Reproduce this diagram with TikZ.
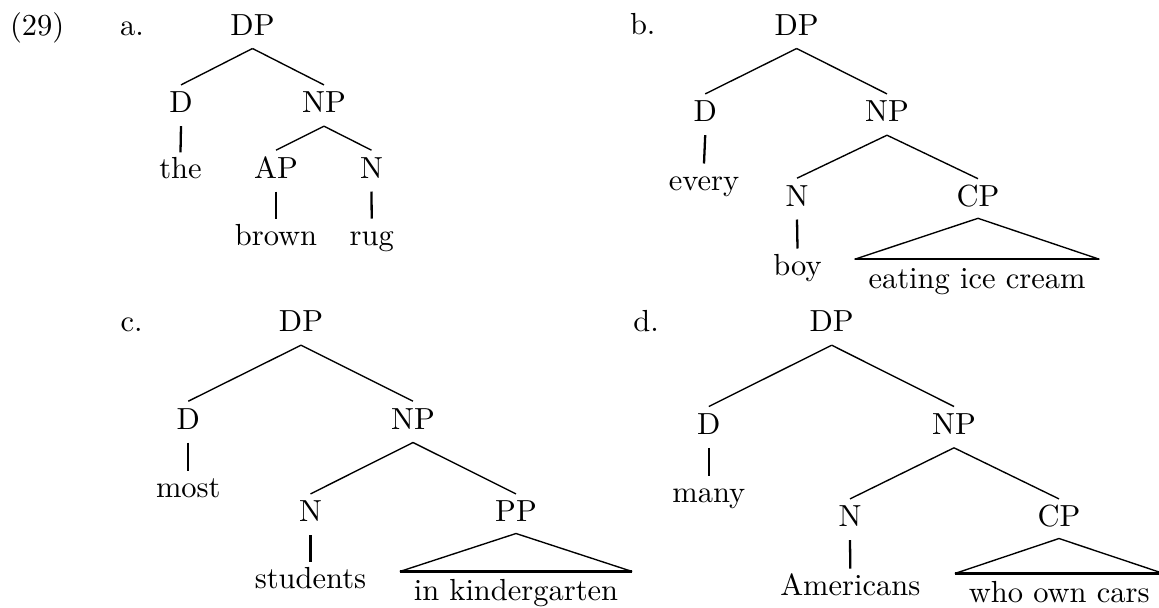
\documentclass[tikz,border=0pt]{standalone}
\usetikzlibrary{calc}
\begin{document}
\begin{tikzpicture}[x=0.3279pt,y=-0.3279pt,
  lab/.style={inner sep=0pt,outer sep=0pt,anchor=base},
  lft/.style={inner sep=0pt,outer sep=0pt,anchor=base west},
  branch/.style={line width=0.45pt},
  stem/.style={line width=0.75pt}]
\useasboundingbox (0,0) rectangle (1159,607);
\def\pd{13.5}\def\cu{27.8}\def\lu{26.5}\def\tpd{11.8}\def\tu{29}\def\tx{14}
% labels
\node[lft] (ex) at (10,35) {(29)};
\node[lft] (la) at (120,35) {a.};
\node[lft] (lb) at (630,34.5) {b.};
\node[lft] (lc) at (120.7,331) {c.};
\node[lft] (ld) at (633.3,331) {d.};
% ---------- tree a
\node[lab] (DPa) at (252.5,35) {DP};
\node[lab] (Da) at (181,112.7) {D};
\node[lab] (NPa) at (324,112.7) {NP};
\node[lab] (thea) at (180.5,178.8) {the};
\node[lab] (APa) at (276,178) {AP};
\node[lab] (Na) at (371.5,178) {N};
\node[lab] (browna) at (276,245) {brown};
\node[lab] (ruga) at (371.7,245) {rug};
\draw[branch] ($(DPa.base)+(0,\pd)$) -- ($(Da.base)+(0,-\cu)$);
\draw[branch] ($(DPa.base)+(0,\pd)$) -- ($(NPa.base)+(0,-\cu)$);
\draw[branch] ($(NPa.base)+(0,\pd)$) -- ($(APa.base)+(0,-\cu)$);
\draw[branch] ($(NPa.base)+(0,\pd)$) -- ($(Na.base)+(0,-\cu)$);
\draw[stem] ($(Da.base)+(0,\pd)$) -- ($(thea.base)+(0,-\lu)$);
\draw[stem] ($(APa.base)+(0,\pd)$) -- ($(browna.base)+(0,-\lu)$);
\draw[stem] ($(Na.base)+(0,\pd)$) -- ($(ruga.base)+(0,-\lu)$);
% ---------- tree b
\node[lab] (DPb) at (796.7,35) {DP};
\node[lab] (Db) at (705.2,121.7) {D};
\node[lab] (NPb) at (887,121.7) {NP};
\node[lab] (everyb) at (704,190) {every};
\node[lab] (Nb) at (797,206) {N};
\node[lab] (CPb) at (978,206.5) {CP};
\node[lab] (boyb) at (797.5,275) {boy};
\node[lab] (tb) at (977,288.3) {eating ice cream};
\draw[branch] ($(DPb.base)+(0,\pd)$) -- ($(Db.base)+(0,-\cu)$);
\draw[branch] ($(DPb.base)+(0,\pd)$) -- ($(NPb.base)+(0,-\cu)$);
\draw[branch] ($(NPb.base)+(0,\pd)$) -- ($(Nb.base)+(0,-\cu)$);
\draw[branch] ($(NPb.base)+(0,\pd)$) -- ($(CPb.base)+(0,-\cu)$);
\draw[stem] ($(Db.base)+(0,\pd)$) -- ($(everyb.base)+(0,-\lu)$);
\draw[stem] ($(Nb.base)+(0,\pd)$) -- ($(boyb.base)+(0,-\lu)$);
\draw[branch] ($(tb.base west)+(-\tx,-\tu)$) -- ($(CPb.base)+(0,\tpd)$) -- ($(tb.base east)+(\tx,-\tu)$);
\draw[stem] ($(tb.base west)+(-\tx,-\tu)$) -- ($(tb.base east)+(\tx,-\tu)$);
% ---------- tree c
\node[lab] (DPc) at (301,331.7) {DP};
\node[lab] (Dc) at (188.3,429) {D};
\node[lab] (NPc) at (413,429) {NP};
\node[lab] (mostc) at (188.3,497.3) {most};
\node[lab] (Nc) at (310.5,521.7) {N};
\node[lab] (PPc) at (516,521.7) {PP};
\node[lab] (studc) at (310.5,588.3) {students};
\node[lab] (tc) at (516,600.5) {in kindergarten};
\draw[branch] ($(DPc.base)+(0,\pd)$) -- ($(Dc.base)+(0,-\cu)$);
\draw[branch] ($(DPc.base)+(0,\pd)$) -- ($(NPc.base)+(0,-\cu)$);
\draw[branch] ($(NPc.base)+(0,\pd)$) -- ($(Nc.base)+(0,-\cu)$);
\draw[branch] ($(NPc.base)+(0,\pd)$) -- ($(PPc.base)+(0,-\cu)$);
\draw[stem] ($(Dc.base)+(0,\pd)$) -- ($(mostc.base)+(0,-\lu)$);
\draw[stem] ($(Nc.base)+(0,\pd)$) -- ($(studc.base)+(0,-\lu)$);
\draw[branch] ($(tc.base west)+(-\tx,-\tu)$) -- ($(PPc.base)+(0,\tpd)$) -- ($(tc.base east)+(\tx,-\tu)$);
\draw[stem] ($(tc.base west)+(-\tx,-\tu)$) -- ($(tc.base east)+(\tx,-\tu)$);
% ---------- tree d
\node[lab] (DPd) at (831.7,331.7) {DP};
\node[lab] (Dd) at (708.8,434.3) {D};
\node[lab] (NPd) at (954,434.3) {NP};
\node[lab] (manyd) at (708.8,502.7) {many};
\node[lab] (Nd) at (850,526.7) {N};
\node[lab] (CPd) at (1059,526.7) {CP};
\node[lab] (Amd) at (850.3,595) {Americans};
\node[lab] (td) at (1059.2,602.5) {who own cars};
\draw[branch] ($(DPd.base)+(0,\pd)$) -- ($(Dd.base)+(0,-\cu)$);
\draw[branch] ($(DPd.base)+(0,\pd)$) -- ($(NPd.base)+(0,-\cu)$);
\draw[branch] ($(NPd.base)+(0,\pd)$) -- ($(Nd.base)+(0,-\cu)$);
\draw[branch] ($(NPd.base)+(0,\pd)$) -- ($(CPd.base)+(0,-\cu)$);
\draw[stem] ($(Dd.base)+(0,\pd)$) -- ($(manyd.base)+(0,-\lu)$);
\draw[stem] ($(Nd.base)+(0,\pd)$) -- ($(Amd.base)+(0,-\lu)$);
\draw[branch] ($(td.base west)+(-\tx,-\tu)$) -- ($(CPd.base)+(0,\tpd)$) -- ($(td.base east)+(\tx,-\tu)$);
\draw[stem] ($(td.base west)+(-\tx,-\tu)$) -- ($(td.base east)+(\tx,-\tu)$);
\end{tikzpicture}
\end{document}
